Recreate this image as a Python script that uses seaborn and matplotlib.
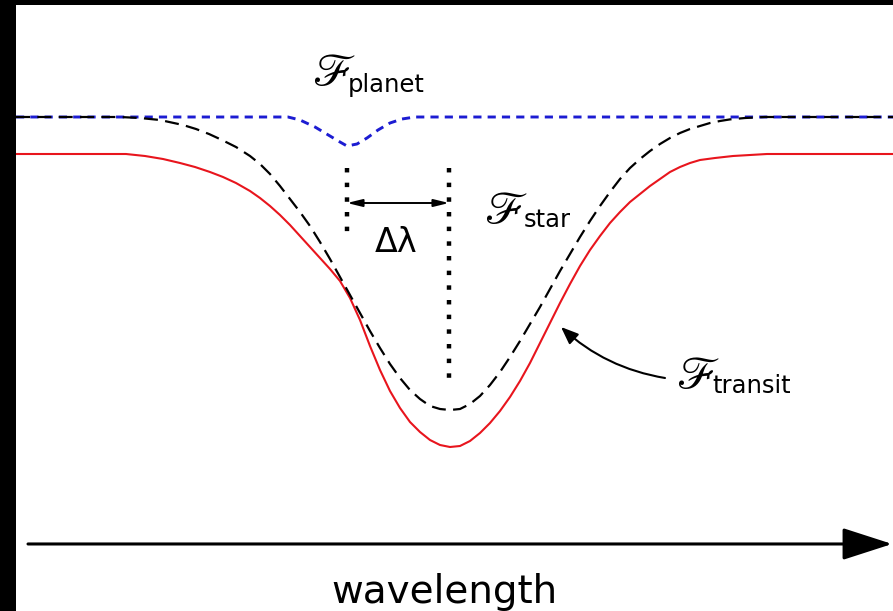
import matplotlib
matplotlib.use("Agg")
import matplotlib.pyplot as plt
import seaborn as sns
import pandas as pd
from matplotlib.patches import FancyArrowPatch

# ---- data (wavelength: arbitrary units, flux: normalized to the stellar continuum)
star_wl = [16, 120, 140, 160, 183, 196, 209, 222, 236, 250, 260, 270, 280, 290, 300, 310, 320,
           330, 340, 350, 360, 370, 380, 390, 400, 410, 420, 430, 440, 450, 460, 470, 480, 490,
           500, 510, 520, 530, 540, 550, 560, 570, 580, 590, 600, 610, 620, 630, 640, 650, 660,
           670, 680, 690, 700, 710, 720, 730, 745, 765, 893]
star_flux = [1.0, 1.0, 0.9975, 0.9925, 0.98, 0.97, 0.9575, 0.9425, 0.925, 0.9025, 0.8825, 0.8575,
             0.8275, 0.795, 0.7625, 0.7275, 0.6875, 0.645, 0.600, 0.555, 0.510, 0.465, 0.4225,
             0.3825, 0.3475, 0.3175, 0.295, 0.2775, 0.270, 0.2675, 0.270, 0.2825, 0.3025, 0.330,
             0.3625, 0.400, 0.440, 0.4825, 0.525, 0.570, 0.615, 0.6575, 0.700, 0.740, 0.7775,
             0.8125, 0.845, 0.8725, 0.895, 0.915, 0.9325, 0.9475, 0.960, 0.970, 0.9775, 0.985,
             0.990, 0.994, 0.9975, 1.0, 1.0]

transit_wl = [16, 126, 145, 163, 180, 195, 210, 223, 236, 250, 260, 270, 280, 290, 300, 310, 320,
              330, 340, 350, 360, 370, 380, 390, 400, 410, 420, 430, 440, 450, 460, 470, 480, 490,
              500, 510, 520, 530, 540, 550, 560, 570, 580, 590, 600, 610, 620, 630, 640, 650, 660,
              670, 680, 690, 700, 715, 733, 750, 767, 893]
transit_flux = [0.9075, 0.9075, 0.9025, 0.895, 0.885, 0.875, 0.8625, 0.850, 0.835, 0.815, 0.7975,
                0.7775, 0.755, 0.730, 0.7025, 0.675, 0.6475, 0.620, 0.590, 0.5475, 0.4925, 0.4275,
                0.3675, 0.315, 0.2725, 0.2375, 0.2125, 0.1925, 0.180, 0.175, 0.1775, 0.190, 0.210,
                0.235, 0.265, 0.300, 0.340, 0.385, 0.435, 0.485, 0.535, 0.5825, 0.6275, 0.6675,
                0.7025, 0.735, 0.7625, 0.7875, 0.8075, 0.8275, 0.845, 0.8625, 0.875, 0.885, 0.8925,
                0.8975, 0.9025, 0.905, 0.9075, 0.9075]

planet_wl = [16, 288, 300, 315, 330, 340, 347, 357, 367, 378, 390, 402, 415, 893]
planet_flux = [1.0, 1.0, 0.9925, 0.975, 0.9525, 0.9375, 0.9275, 0.9325, 0.9475, 0.9675, 0.985,
               0.995, 1.0, 1.0]

planet_center = 347
star_center = 449
labels = {"planet": "planet", "star": "star", "transit": "transit"}
axis_label = "wavelength"
shift_label = "Δλ"

# ---- figure
sns.set_style("white")
plt.rcParams["font.family"] = ["DejaVu Sans"]
plt.rcParams["text.color"] = "black"

fig = plt.figure(figsize=(8.93, 6.11), dpi=100, facecolor="black")
ax = fig.add_axes([16 / 893, 0, 877 / 893, 606 / 611])
ax.set_facecolor("white")

df_p = pd.DataFrame({"wl": planet_wl, "flux": planet_flux})
df_s = pd.DataFrame({"wl": star_wl, "flux": star_flux})
df_t = pd.DataFrame({"wl": transit_wl, "flux": transit_flux})

sns.lineplot(data=df_t, x="wl", y="flux", ax=ax, color="#e8151d", lw=1.5, sort=False)
sns.lineplot(data=df_p, x="wl", y="flux", ax=ax, color="#1c1cd2", lw=2.1,
             linestyle=(0, (2.8, 2.1)), sort=False)
sns.lineplot(data=df_s, x="wl", y="flux", ax=ax, color="black", lw=1.6,
             linestyle=(0, (6.3, 3.3)), sort=False)

ax.set_xlim(16, 893)
ax.set_ylim(-0.235, 1.28)
for sp in ax.spines.values():
    sp.set_visible(False)
ax.set_xticks([])
ax.set_yticks([])
ax.set_xlabel("")
ax.set_ylabel("")

# line-centre markers (dotted) and the shift arrow
ax.plot([planet_center, planet_center], [0.8725, 0.7125], color="black", lw=3.2,
        linestyle=(0, (1, 2.3)))
ax.plot([star_center, star_center], [0.8725, 0.3475], color="black", lw=3.2,
        linestyle=(0, (1, 2.3)))
ax.annotate("", xy=(star_center, 0.785), xytext=(planet_center, 0.785),
            arrowprops=dict(arrowstyle="<|-|>,head_length=0.9,head_width=0.22",
                            lw=1.4, color="black", shrinkA=0, shrinkB=0, mutation_scale=10))
ax.text(396, 0.662, shift_label, fontsize=24, ha="center", va="baseline", color="black")

# labels
def flabel(xs, ys_f, ys, sub, gap=36):
    ax.text(xs - gap, ys_f, "ℱ", fontsize=33, family="STIXGeneral", ha="left",
            va="baseline", color="black")
    ax.text(xs, ys, sub, fontsize=17.5, ha="left", va="baseline", color="black")

flabel(348, 1.0775, 1.0625, labels["planet"])
flabel(524, 0.7325, 0.725, labels["star"], gap=40)
flabel(712, 0.32, 0.31, labels["transit"])

# curved arrow to the transit curve
ax.annotate("", xy=(561, 0.475), xytext=(665, 0.3475),
            arrowprops=dict(arrowstyle="-|>,head_length=0.75,head_width=0.3",
                            connectionstyle="arc3,rad=-0.15", lw=1.5, color="black",
                            shrinkA=0, shrinkB=0, mutation_scale=14))

# wavelength axis arrow
arr = FancyArrowPatch((12 / 877, 0.1106), (0.999, 0.1106), transform=ax.transAxes,
                      arrowstyle="-|>,head_length=3.1,head_width=1.0", mutation_scale=10,
                      lw=2.2, color="black", shrinkA=0, shrinkB=0, clip_on=False)
ax.add_patch(arr)
ax.text(444, -0.215, axis_label, fontsize=28, ha="center", va="baseline", color="black")

fig.savefig("out.png", dpi=100, facecolor="black")
